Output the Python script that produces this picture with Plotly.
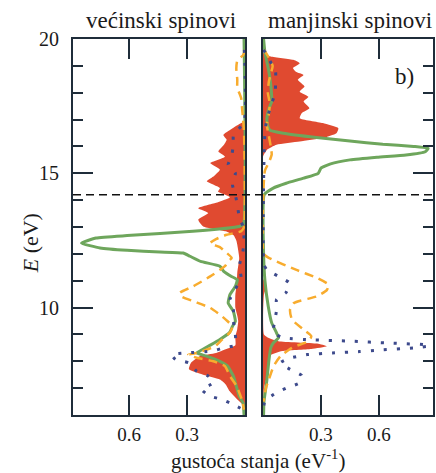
import plotly.graph_objects as go

# ---------------- data: majority spins (left panel) ----------------
maj_red_E = [20.0, 16.95, 16.87, 16.65, 16.43, 16.25, 16.05, 15.81, 15.62, 15.38, 15.13, 14.90, 14.70,
             14.45, 14.32, 14.11, 13.90, 13.70, 13.52, 13.27, 13.02, 12.84, 12.70, 12.50, 12.34, 11.85,
             11.30, 10.85, 10.48, 10.00, 9.70, 9.50, 9.20, 8.90, 8.60, 8.45, 8.31, 8.19, 7.94, 7.70,
             7.51, 7.32, 7.14, 6.89, 6.58, 6.33, 6.0]
maj_red_v = [0.0, 0.0, 0.02, 0.07, 0.112, 0.095, 0.11, 0.138, 0.104, 0.18, 0.13, 0.16, 0.198,
             0.13, 0.14, 0.078, 0.15, 0.242, 0.19, 0.242, 0.216, 0.10, 0.06, 0.045, 0.04, 0.03,
             0.04, 0.043, 0.05, 0.05, 0.04, 0.035, 0.04, 0.05, 0.05, 0.10, 0.15, 0.235, 0.28, 0.29,
             0.22, 0.13, 0.10, 0.08, 0.04, 0.005, 0.0]

maj_green_E = [20.0, 13.10, 13.02, 12.84, 12.68, 12.59, 12.40, 12.22, 12.13, 12.07, 12.03, 11.91, 11.72,
               11.54, 11.35, 11.16, 11.04, 10.79, 10.48, 10.17, 9.86, 9.49, 9.30, 9.07, 8.81, 8.60,
               8.44, 8.31, 8.19, 8.00, 7.82, 7.45, 7.07, 6.70, 6.45, 6.0]
maj_green_v = [0.005, 0.008, 0.03, 0.27, 0.61, 0.77, 0.846, 0.75, 0.61, 0.44, 0.32, 0.285, 0.23,
               0.13, 0.11, 0.07, 0.04, 0.05, 0.078, 0.087, 0.06, 0.05, 0.065, 0.08, 0.13, 0.18,
               0.22, 0.25, 0.20, 0.13, 0.09, 0.06, 0.045, 0.03, 0.01, 0.005]

maj_orange_E = [19.6, 19.4, 19.2, 18.9, 18.5, 18.2, 17.8, 17.4, 17.0, 16.5, 13.0, 12.84, 12.71, 12.55,
                12.40, 12.25, 12.09, 11.85, 11.70, 11.54, 11.16, 10.79, 10.55, 10.42, 10.24, 9.99,
                9.74, 9.49, 9.30, 9.07, 8.80, 8.56, 8.31, 8.25, 8.13, 8.00, 7.82, 7.45, 7.07, 6.58, 6.2]
maj_orange_v = [0.0, 0.01, 0.04, 0.045, 0.04, 0.04, 0.02, 0.015, 0.01, 0.005, 0.005, 0.02, 0.095, 0.15,
                0.18, 0.13, 0.104, 0.069, 0.09, 0.104, 0.18, 0.268, 0.337, 0.33, 0.268, 0.18,
                0.13, 0.09, 0.065, 0.078, 0.12, 0.155, 0.25, 0.294, 0.25, 0.164, 0.104, 0.078, 0.043, 0.017, 0.005]

maj_blue_E = [19.6, 16.9, 16.43, 16.06, 15.63, 15.32, 15.01, 14.57, 14.20, 13.83, 13.39, 13.0, 12.5,
              12.03, 11.54, 11.1, 10.67, 10.30, 9.90, 9.50, 9.00, 8.60, 8.50, 8.38, 8.31, 8.25, 8.07,
              7.94, 7.63, 7.45, 7.20, 6.95, 6.70, 6.58, 6.39, 6.2]
maj_blue_v = [0.003, 0.005, 0.06, 0.06, 0.07, 0.087, 0.05, 0.065, 0.05, 0.04, 0.03, 0.01, 0.005,
              0.012, 0.03, 0.02, 0.052, 0.078, 0.06, 0.06, 0.05, 0.05, 0.11, 0.17, 0.31, 0.38, 0.36,
              0.29, 0.25, 0.19, 0.164, 0.224, 0.18, 0.12, 0.06, 0.01]

# ---------------- data: minority spins (right panel) ----------------
min_red_E = [20.0, 19.5, 19.35, 19.22, 19.10, 18.92, 18.78, 18.66, 18.48, 18.23, 18.04, 17.85, 17.67,
             17.42, 17.24, 17.05, 16.87, 16.68, 16.49, 16.31, 16.18, 16.06, 15.87, 15.62, 11.1, 10.9,
             10.7, 10.5, 9.0, 8.87, 8.75, 8.66, 8.56, 8.46, 8.38, 8.19, 7.8, 7.3, 7.0, 6.0]
min_red_v = [0.0, 0.0, 0.04, 0.16, 0.19, 0.155, 0.17, 0.21, 0.18, 0.215, 0.19, 0.235, 0.21,
             0.24, 0.20, 0.19, 0.31, 0.39, 0.38, 0.31, 0.19, 0.07, 0.02, 0.0, 0.0, 0.012,
             0.015, 0.005, 0.005, 0.03, 0.08, 0.28, 0.33, 0.25, 0.10, 0.03, 0.025, 0.015, 0.005, 0.0]

min_green_E = [20.0, 19.5, 18.8, 18.3, 17.67, 17.4, 17.0, 16.75, 16.60, 16.49, 16.33, 16.20, 16.08,
               16.00, 15.93, 15.80, 15.68, 15.60, 15.50, 15.35, 15.19, 15.00, 14.82, 14.63, 14.45,
               14.20, 12.0, 11.0, 10.05, 9.43, 9.06, 8.87, 8.70, 8.50, 8.00, 7.30, 6.50, 6.0]
min_green_v = [0.003, 0.01, 0.03, 0.04, 0.045, 0.03, 0.02, 0.025, 0.036, 0.105, 0.277, 0.45, 0.62,
               0.78, 0.855, 0.84, 0.74, 0.59, 0.45, 0.35, 0.30, 0.286, 0.21, 0.12, 0.053,
               0.006, 0.003, 0.01, 0.027, 0.045, 0.07, 0.08, 0.055, 0.04, 0.03, 0.02, 0.005, 0.003]

min_orange_E = [19.6, 19.3, 19.0, 18.7, 18.4, 18.0, 17.6, 17.2, 16.8, 16.4, 16.0, 15.7, 15.4, 15.1,
                14.5, 12.0, 11.85, 11.41, 11.10, 10.85, 10.65, 10.42, 10.17, 9.92, 9.55, 9.18, 8.93,
                8.75, 8.50, 8.19, 7.82, 7.32, 7.0, 6.5]
min_orange_v = [0.005, 0.03, 0.05, 0.04, 0.03, 0.025, 0.035, 0.03, 0.02, 0.03, 0.04, 0.045, 0.03, 0.01,
                0.003, 0.003, 0.03, 0.17, 0.28, 0.34, 0.33, 0.28, 0.16, 0.14, 0.15, 0.21, 0.25,
                0.235, 0.15, 0.09, 0.055, 0.03, 0.015, 0.003]

min_blue_E = [19.6, 19.0, 18.8, 18.4, 18.0, 17.6, 17.0, 16.5, 15.5, 14.0, 11.6, 11.41, 11.16, 10.92,
              10.57, 10.30, 9.90, 9.55, 9.06, 8.87, 8.80, 8.75, 8.68, 8.62, 8.57, 8.50, 8.42, 8.36,
              8.31, 8.25, 8.10, 7.94, 7.70, 7.47, 7.20, 7.00, 6.83, 6.52, 6.3]
min_blue_v = [0.003, 0.05, 0.065, 0.065, 0.063, 0.045, 0.02, 0.01, 0.005, 0.002, 0.005, 0.02, 0.08, 0.136,
              0.12, 0.07, 0.07, 0.062, 0.053, 0.11, 0.25, 0.45, 0.65, 0.83, 0.86, 0.78, 0.60, 0.50,
              0.36, 0.23, 0.13, 0.09, 0.14, 0.20, 0.19, 0.12, 0.07, 0.01, 0.003]

fermi_E = 14.2
x_tick_vals = [0.3, 0.6]
x_tick_text = ["0.3", "0.6"]
y_tick_vals = [10, 15, 20]
y_tick_text = ["10", "15", "20"]

RED = "#e04a30"
GREEN = "#6ea65c"
ORANGE = "#f8ac2e"
BLUE = "#3d4a8c"
FRAME = "#1f2d3a"
TXT = "#1a1a1a"
FONT = "'Liberation Serif', 'Times New Roman', 'DejaVu Serif', serif"

fig = go.Figure()


def add_panel(xa, ya, rE, rv, gE, gv, oE, ov, bE, bv):
    fig.add_trace(go.Scatter(x=rv, y=rE, mode="lines", fill="tozerox", fillcolor=RED,
                             line=dict(width=0, color=RED, shape="spline", smoothing=0.5),
                             xaxis=xa, yaxis=ya, showlegend=False, hoverinfo="skip"))
    fig.add_trace(go.Scatter(x=gv, y=gE, mode="lines",
                             line=dict(width=3, color=GREEN, shape="spline", smoothing=0.4),
                             xaxis=xa, yaxis=ya, showlegend=False, hoverinfo="skip"))
    fig.add_trace(go.Scatter(x=ov, y=oE, mode="lines",
                             line=dict(width=2.5, color=ORANGE, dash="9px,6px", shape="spline", smoothing=0.5),
                             xaxis=xa, yaxis=ya, showlegend=False, hoverinfo="skip"))
    fig.add_trace(go.Scatter(x=bv, y=bE, mode="lines",
                             line=dict(width=3, color=BLUE, dash="3px,10px", shape="spline", smoothing=0.5),
                             xaxis=xa, yaxis=ya, showlegend=False, hoverinfo="skip"))


add_panel("x", "y", maj_red_E, maj_red_v, maj_green_E, maj_green_v,
          maj_orange_E, maj_orange_v, maj_blue_E, maj_blue_v)
add_panel("x2", "y2", min_red_E, min_red_v, min_green_E, min_green_v,
          min_orange_E, min_orange_v, min_blue_E, min_blue_v)

xcommon = dict(tickvals=x_tick_vals, ticktext=x_tick_text, ticks="inside", ticklen=20, tickwidth=1.6,
               tickcolor=FRAME, mirror="ticks", showline=True, linecolor=FRAME, linewidth=2,
               showgrid=False, zeroline=False, tickfont=dict(family=FONT, size=19, color=TXT),
               ticklabelstandoff=1)
ycommon = dict(range=[6, 20], tickvals=y_tick_vals, ticktext=y_tick_text, ticks="inside", ticklen=20,
               tickwidth=1.6, tickcolor=FRAME, showline=True, linecolor=FRAME, linewidth=2,
               mirror=True, showgrid=False, zeroline=False,
               minor=dict(ticks="inside", ticklen=10, dtick=1, tick0=0, tickcolor=FRAME, tickwidth=1.6,
                          showgrid=False),
               tickfont=dict(family=FONT, size=20, color=TXT))

fig.update_layout(
    width=436, height=473,
    margin=dict(l=73, r=3, t=39, b=58),
    paper_bgcolor="white", plot_bgcolor="white",
    font=dict(family=FONT, color=TXT),
    xaxis=dict(domain=[0, 0.4778], range=[0.89, 0], anchor="y", **xcommon),
    xaxis2=dict(domain=[0.5278, 1.0], range=[0, 0.88], anchor="y2", **xcommon),
    yaxis=dict(anchor="x", side="left", showticklabels=True, ticklabelstandoff=8, **ycommon),
    yaxis2=dict(anchor="x2", side="right", matches="y", showticklabels=False, **ycommon),
    shapes=[dict(type="line", xref="paper", x0=0, x1=1, yref="y", y0=fermi_E, y1=fermi_E,
                 line=dict(color="#111111", width=1.5, dash="8px,5px"), layer="above")],
    annotations=[
        dict(text="većinski spinovi", xref="paper", yref="paper", x=0.244, y=1.048,
             xanchor="center", yanchor="middle", showarrow=False,
             font=dict(family=FONT, size=23, color=TXT)),
        dict(text="manjinski spinovi", xref="paper", yref="paper", x=0.769, y=1.048,
             xanchor="center", yanchor="middle", showarrow=False,
             font=dict(family=FONT, size=23, color=TXT)),
        dict(text="b)", xref="paper", yref="paper", x=0.922, y=0.899,
             xanchor="center", yanchor="middle", showarrow=False,
             font=dict(family=FONT, size=23, color=TXT)),
        dict(text="gustoća stanja (eV<sup>-1</sup>)", xref="paper", yref="paper", x=0.514, y=-0.118,
             xanchor="center", yanchor="middle", showarrow=False,
             font=dict(family=FONT, size=21, color=TXT)),
        dict(text="<i>E</i> (eV)", xref="paper", yref="paper", x=-0.119, y=0.457,
             xanchor="center", yanchor="middle", showarrow=False, textangle=-90,
             font=dict(family=FONT, size=22, color=TXT)),
    ],
)

fig.write_html("out.html", config={"displayModeBar": False},
               post_script="document.body.style.margin='0';document.body.style.overflow='hidden';")
